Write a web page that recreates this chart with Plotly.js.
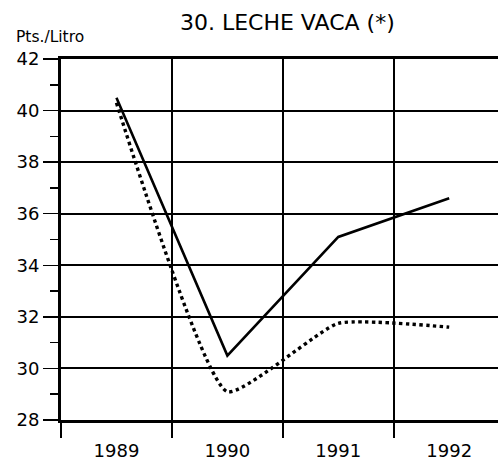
<!DOCTYPE html>
<html>
<head>
<meta charset="utf-8">
<script src="https://cdn.plot.ly/plotly-3.0.1.min.js"></script>
<style>
html,body{margin:0;padding:0;background:#fff;}
#chart{width:498px;height:466px;}
</style>
</head>
<body>
<div id="chart"></div>
<script>
const years = ["1989", "1990", "1991", "1992"];
const solidSeries = [40.5, 30.5, 35.1, 36.6];
const dottedSeries = [40.3, 29.1, 31.75, 31.6];
const yTicks = [28, 30, 32, 34, 36, 38, 40, 42];

const FONT = "DejaVu Sans, sans-serif";

const traces = [
  {
    x: years, y: solidSeries, type: "scatter", mode: "lines",
    line: {color: "#000", width: 2.6}, hoverinfo: "skip"
  },
  {
    x: years, y: dottedSeries, type: "scatter", mode: "lines",
    line: {color: "#000", width: 3.4, dash: "dot", shape: "spline", smoothing: 0.45}, hoverinfo: "skip"
  }
];

const layout = {
  width: 498, height: 466,
  margin: {l: 61, r: 0, t: 59, b: 46, pad: 0},
  paper_bgcolor: "#fff", plot_bgcolor: "#fff",
  showlegend: false,
  font: {family: FONT, color: "#000"},
  title: {
    text: "30. LECHE VACA (*)",
    font: {family: FONT, size: 22, color: "#000"},
    x: 0.577, xanchor: "center", y: 0.952, yanchor: "middle"
  },
  xaxis: {
    type: "category",
    range: [-0.5, 3.44],
    tickson: "boundaries",
    ticks: "outside", ticklen: 15, tickwidth: 2, tickcolor: "#000",
    ticklabelstandoff: 12,
    showgrid: true, gridcolor: "#000", gridwidth: 2,
    showline: true, linecolor: "#000", linewidth: 3, mirror: true,
    tickfont: {family: FONT, size: 18, color: "#000"},
    zeroline: false, fixedrange: true
  },
  yaxis: {
    range: [28, 42],
    tickvals: yTicks,
    ticktext: yTicks.map(String),
    ticks: "outside", ticklen: 15, tickwidth: 1.5, tickcolor: "#000",
    minor: {dtick: 1, ticks: "outside", ticklen: 8, tickwidth: 1.5, tickcolor: "#000", showgrid: false},
    showgrid: true, gridcolor: "#000", gridwidth: 2,
    showline: true, linecolor: "#000", linewidth: 3,
    tickfont: {family: FONT, size: 18, color: "#000"},
    zeroline: false, fixedrange: true
  },
  annotations: [
    {
      text: "Pts./Litro", xref: "paper", yref: "paper",
      x: -0.1, y: 1.0, xanchor: "left", yanchor: "bottom", yshift: 11, xshift: -3,
      showarrow: false, font: {family: FONT, size: 15.5, color: "#000"}
    }
  ]
};

Plotly.newPlot("chart", traces, layout, {displayModeBar: false, staticPlot: true});
</script>
</body>
</html>
